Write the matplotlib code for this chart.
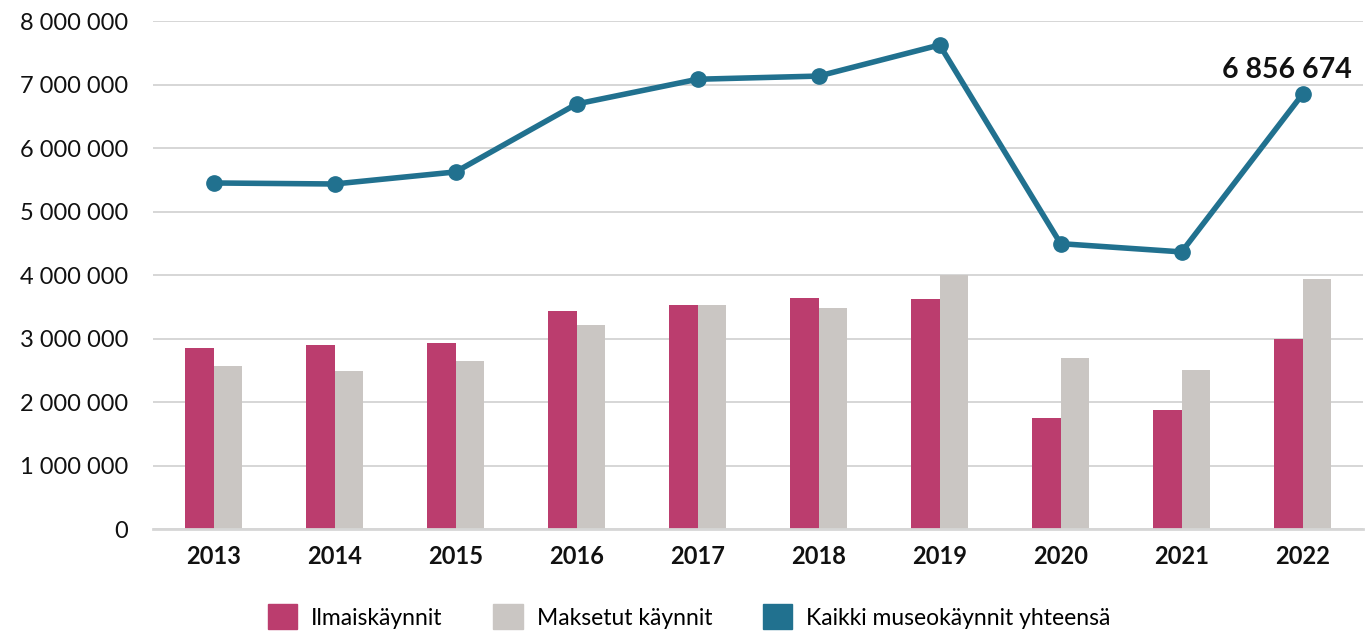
import numpy as np
import matplotlib.pyplot as plt
from matplotlib.patches import Patch
from matplotlib.ticker import FuncFormatter

plt.rcParams['font.family'] = ['Lato', 'DejaVu Sans']

years = ["2013", "2014", "2015", "2016", "2017", "2018", "2019", "2020", "2021", "2022"]
ilmais = [2855000, 2900000, 2940000, 3440000, 3540000, 3650000, 3630000, 1760000, 1880000, 3000000]
maksetut = [2570000, 2490000, 2650000, 3220000, 3540000, 3490000, 4010000, 2700000, 2510000, 3940000]
kaikki = [5456000, 5440000, 5630000, 6700000, 7090000, 7140000, 7630000, 4500000, 4370000, 6856674]

c_free = "#bb3d6e"
c_paid = "#cac6c3"
c_total = "#21718f"

fig = plt.figure(figsize=(13.7, 6.32), dpi=100)
ax = fig.add_axes([0.1117, 0.1625, 0.8833, 0.8035])

x = np.arange(len(years))
w = 0.235
ax.bar(x - w / 2, ilmais, w, color=c_free, zorder=2)
ax.bar(x + w / 2, maksetut, w, color=c_paid, zorder=2)
ax.plot(x, kaikki, color=c_total, lw=4, marker="o", ms=11, zorder=3)

ax.annotate("6 856 674", (x[-1], kaikki[-1]), xytext=(-11.5, 11.5), textcoords="offset points",
            ha="center", va="baseline", fontsize=20.5, fontweight="bold", color="#111111")

ax.set_xlim(-0.5, len(years) - 0.5)
ax.set_ylim(0, 8000000)
ax.set_yticks(np.arange(0, 8000001, 1000000))
ax.yaxis.set_major_formatter(FuncFormatter(lambda v, p: f"{v:,.0f}".replace(",", " ")))
ax.set_xticks(x)
ax.set_xticklabels(years, fontweight="bold")
ax.tick_params(axis="both", length=0, labelsize=17, colors="#111111")
ax.tick_params(axis="y", pad=18)
ax.tick_params(axis="x", pad=11)
ax.grid(axis="y", color="#d0d0d0", lw=1.2, zorder=0)
for s in ["top", "right", "left"]:
    ax.spines[s].set_visible(False)
ax.spines["bottom"].set_color("#d6d6d6")
ax.spines["bottom"].set_linewidth(2)

handles = [Patch(color=c_free), Patch(color=c_paid), Patch(color=c_total)]
labels = ["Ilmaiskäynnit", "Maksetut käynnit", "Kaikki museokäynnit yhteensä"]
fig.legend(handles, labels, loc="center", bbox_to_anchor=(0.503, 0.024), ncol=3, frameon=False,
           fontsize=16.5, handlelength=1.3, handleheight=1.3, handletextpad=0.6, columnspacing=2.2)

fig.savefig("out.png", dpi=100)
